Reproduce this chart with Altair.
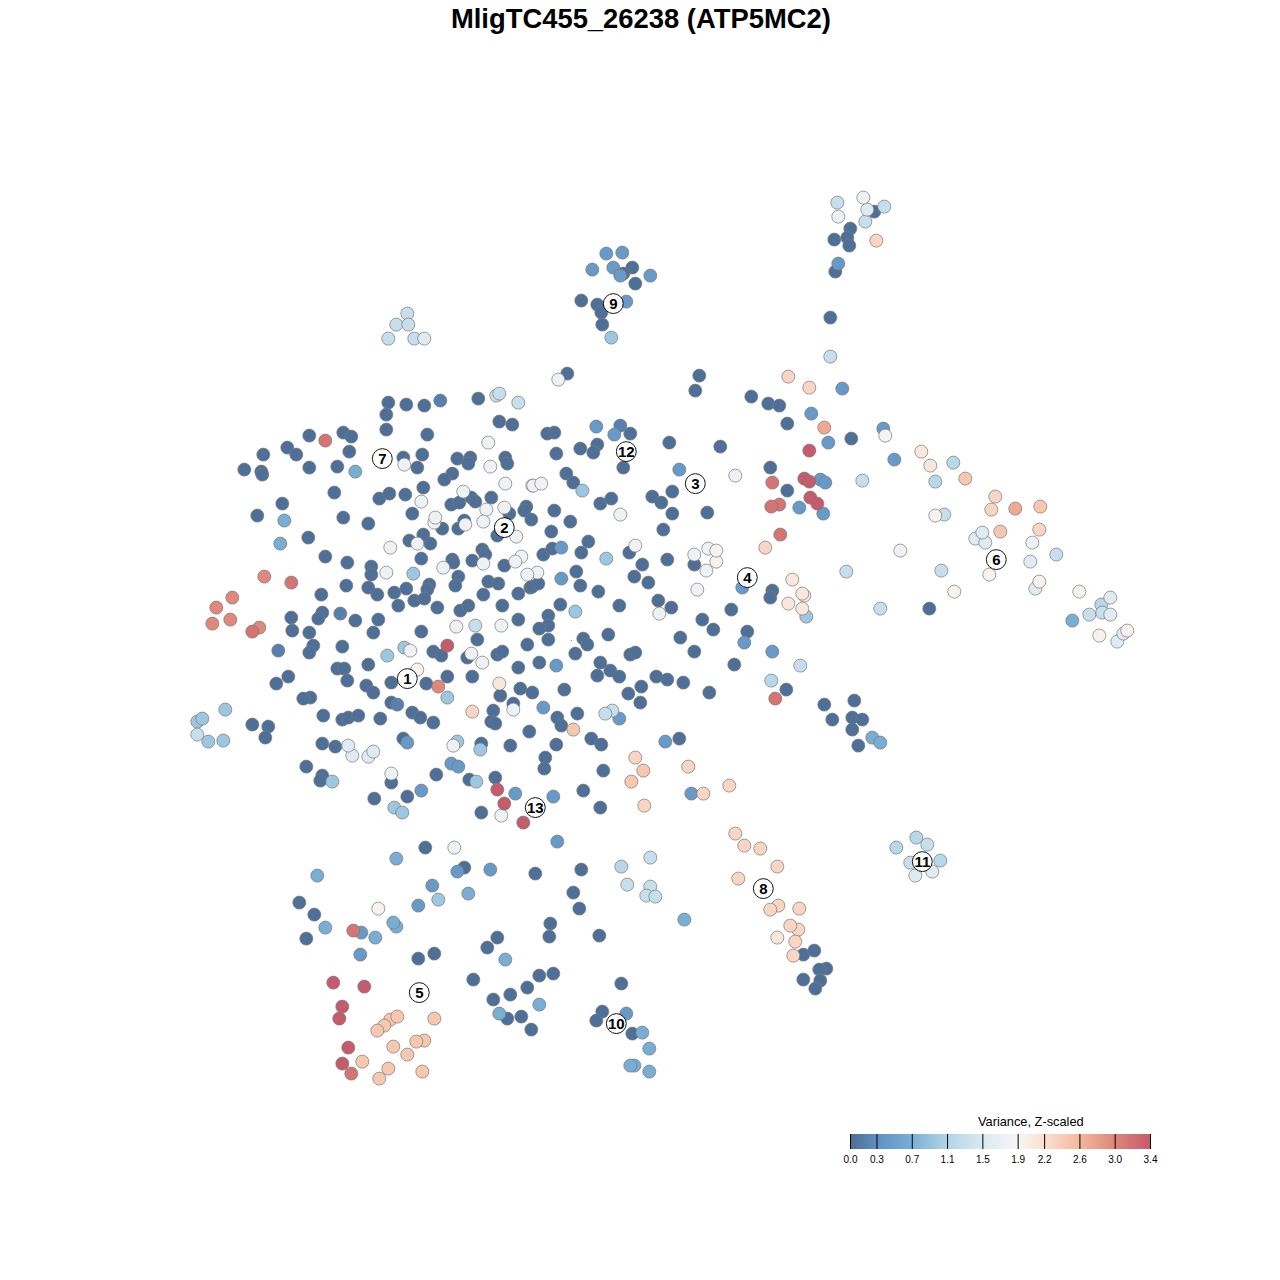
import altair as alt
import pandas as pd

TITLE = "MligTC455_26238 (ATP5MC2)"
LEGEND_TITLE = "Variance, Z-scaled"
LEGEND_TICKS = [0.0, 0.3, 0.7, 1.1, 1.5, 1.9, 2.2, 2.6, 3.0, 3.4]
LEGEND_COLORS = ["#4c6c93", "#5f90c2", "#79b0d5", "#b2d5e6", "#dbe9f1",
                 "#f7f6f5", "#fbdfcf", "#f4b89d", "#df8579", "#c45a6a"]

dark = [(388,402),(406,404),(424,405),(386,414),(386,429),(427,434),(478,398),(499,421),(512,424),(309,435),(343,432),(351,436),(287,447),(296,454),(263,454),(349,451),(244,469),(261,471),(262,474),(309,467),(337,466),(403,457),(422,454),(417,467),(457,458),(470,457),(468,463),(505,457),(507,463),(452,473),(444,479),(334,492),(282,503),(257,515),(343,517),(368,523),(308,537),(325,556),(347,562),(379,498),(389,493),(405,494),(423,487),(412,513),(471,497),(451,504),(459,502),(475,501),(491,497),(509,513),(526,506),(524,510),(531,519),(464,520),(442,528),(458,528),(497,535),(423,534),(409,540),(430,543),(421,558),(452,559),(453,562),(472,560),(482,549),(485,554),(504,565),(371,566),(371,574),(458,576),(455,585),(488,581),(498,583),(530,587),(518,593),(346,585),(368,587),(377,594),(406,588),(394,592),(429,584),(427,589),(414,600),(424,598),(398,605),(437,607),(483,594),(460,610),(468,605),(502,605),(518,619),(321,594),(291,617),(322,612),(318,618),(355,620),(378,619),(373,632),(292,630),(309,632),(313,645),(309,652),(342,646),(421,631),(477,639),(527,644),(433,651),(441,655),(497,654),(502,651),(467,657),(518,667),(368,664),(337,668),(344,668),(347,680),(288,676),(276,683),(447,676),(472,676),(391,682),(426,683),(366,685),(373,692),(391,702),(412,712),(420,717),(433,722),(310,697),(303,698),(323,715),(342,719),(348,717),(358,715),(380,718),(252,724),(268,726),(265,737),(322,743),(335,746),(403,738),(306,766),(322,775),(320,780),(391,782),(374,798),(407,796),(436,774),(481,743),(469,779),(495,777),(481,812),(425,847)]
dark2 = [(547,433),(554,432),(580,448),(597,444),(593,452),(556,453),(630,433),(669,442),(720,446),(623,467),(566,473),(573,482),(554,510),(570,521),(600,503),(611,498),(652,496),(661,502),(672,491),(672,513),(707,512),(663,529),(551,531),(543,554),(552,548),(588,541),(581,552),(629,552),(642,564),(667,559),(694,564),(532,586),(538,583),(576,571),(580,585),(598,591),(634,576),(648,582),(560,604),(548,615),(548,625),(539,628),(619,605),(658,600),(671,607),(548,639),(583,638),(587,644),(608,634),(680,637),(702,619),(713,629),(731,609),(747,631),(694,651),(734,664),(539,662),(575,653),(630,654),(635,652),(600,662),(610,670),(597,675),(619,676),(656,676),(667,679),(683,682),(709,692),(628,693),(641,686),(640,702),(564,689),(520,688),(532,692),(500,695),(513,703),(493,710),(491,721),(495,723),(557,717),(561,725),(577,713),(529,731),(510,745),(556,744),(591,738),(601,744),(545,757),(544,768),(679,738),(603,770),(600,807),(583,790)]
dark3 = [(632,267),(623,273),(635,283),(581,300),(597,304),(601,312),(602,324),(874,211),(850,228),(834,239),(847,237),(849,245),(835,271),(830,317),(567,373),(699,375),(695,390),(751,396),(768,403),(779,405),(787,423),(851,438),(770,467),(787,490),(772,590),(770,597),(786,689),(824,704),(854,700),(832,719),(852,717),(862,719),(852,729),(858,745),(929,608),(464,867),(535,873),(581,869),(573,892),(579,908),(299,902),(314,914),(306,938),(418,958),(434,953),(497,937),(487,947),(550,923),(549,936),(599,935),(473,979),(539,975),(553,973),(527,987),(510,994),(493,999),(507,1018),(521,1016),(531,1029),(602,1011),(596,1020),(632,1033),(621,983),(803,954),(814,950),(826,968),(819,969),(820,980),(803,979),(815,988)]
dmid = [(440,400),(340,613),(278,650),(620,425),(397,704)]
mid = [(596,426),(614,434),(679,469),(561,547),(561,578),(556,665),(543,707),(619,718),(407,742),(421,790),(451,763),(458,766),(515,793),(553,796),(557,841),(691,793),(665,741),(606,253),(622,252),(592,269),(613,267),(620,275),(650,275),(626,301),(838,263),(842,388),(811,413),(828,442),(820,479),(825,482),(799,507),(823,513),(894,459),(883,428),(742,587),(744,642),(772,651),(457,871),(490,869),(432,885),(361,932),(360,954),(626,1013),(418,905)]
midl = [(284,520),(280,543),(355,471),(396,858),(317,875),(468,893),(325,927),(396,926),(393,922),(375,937),(505,959),(539,1004),(499,1013),(684,919),(642,1032),(649,1048),(634,1065),(630,1065),(649,1071),(872,737),(880,742),(1072,620)]
blue_l = [(413,573),(404,647),(387,655),(447,697),(582,490),(606,558),(575,611),(611,337),(480,749),(457,741),(476,781),(332,781),(394,807),(402,812),(438,899),(225,709),(197,721),(202,718),(208,741),(223,740),(806,616)]
light = [(953,462),(935,481),(771,680),(896,847),(916,837),(940,860),(1101,604),(621,866)]
pale = [(475,625),(496,395),(499,393),(518,402),(407,313),(396,324),(408,324),(388,338),(414,338),(197,734),(612,710),(605,713),(837,202),(884,206),(865,221),(830,356),(862,480),(944,514),(1056,554),(941,570),(880,608),(846,571),(800,665),(650,857),(627,884),(650,886),(646,895),(655,896),(927,844),(910,862),(1089,614),(1102,612)]
paler = [(424,338),(352,755),(368,756),(373,751),(348,745),(867,209),(975,538),(985,542),(982,532),(915,875),(932,871),(1110,597),(1110,614),(1117,641),(1123,633),(1035,588),(1030,561)]
white = [(404,464),(488,442),(490,466),(505,483),(532,485),(421,501),(463,491),(486,509),(504,507),(434,522),(435,517),(465,524),(483,521),(516,536),(417,543),(390,547),(483,563),(521,556),(515,561),(443,567),(386,572),(537,572),(527,574),(456,626),(501,625),(410,650),(471,653),(482,662),(513,709),(453,745),(391,773),(454,847),(501,815),(558,379),(533,485),(541,483),(620,514),(635,545),(659,613),(735,475),(708,548),(694,554),(706,570),(697,589),(863,197),(838,216),(900,550),(1032,542)]
wpink = [(417,669),(885,435),(378,908),(935,515),(989,574),(954,591),(1039,581),(1079,591),(1099,635),(1127,630),(716,561),(716,550)]
pink = [(499,683),(921,451),(930,465),(792,579),(804,595),(802,593),(788,603),(802,608),(777,937)]
peach = [(472,711),(788,376),(809,387),(876,240),(995,496),(991,509),(1039,529),(635,757),(688,766),(729,785),(703,793),(644,805),(735,833),(744,845),(760,848),(777,866),(738,878),(778,905),(770,909),(799,908),(798,929),(790,925),(795,941),(793,955),(765,547)]
peach2 = [(573,729),(643,770),(631,781),(390,1019),(397,1016),(384,1025),(377,1030),(434,1018),(362,1061),(393,1046),(407,1054),(424,1040),(416,1041),(388,1068),(379,1078),(422,1071),(965,478),(1040,506),(1000,531)]
salm = [(1015,508),(824,427)]
salmon = [(264,576),(232,597),(216,607),(212,623),(230,619),(259,627),(438,686)]
redsal = [(325,440),(291,582),(252,631),(772,482),(779,504),(771,506),(780,534),(775,698),(353,930),(351,1073)]
red = [(447,645),(497,789),(504,803),(523,822),(809,450),(804,478),(809,481),(810,497),(817,503),(333,982),(364,986),(342,1006),(339,1018),(348,1047),(342,1063)]

groups = [(dark, 0.03), (dark2, 0.03), (dark3, 0.03), (dmid, 0.17), (mid, 0.42), (midl, 0.68),
          (blue_l, 0.95), (light, 1.15), (pale, 1.3), (paler, 1.55), (white, 1.78),
          (wpink, 1.95), (pink, 2.1), (peach, 2.3), (peach2, 2.45), (salm, 2.72),
          (salmon, 2.98), (redsal, 3.15), (red, 3.38)]

cluster_ids = ["1","2","3","4","5","6","7","8","9","10","11","12","13"]
cluster_x = [407,504,695,747,419,996,382,763,613,616,922,626,535]
cluster_y = [678,527,483,577,992,559,458,888,303,1023,861,451,807]

rows = []
for pts, val in groups:
    for px, py in pts:
        rows.append({"x": px, "y": py, "v": val})
df = pd.DataFrame(rows)
labels = pd.DataFrame({"x": cluster_x, "y": cluster_y, "t": cluster_ids})

X = alt.X("x:Q", scale=alt.Scale(domain=[7.7, 1271.7]), axis=None)
Y = alt.Y("y:Q", scale=alt.Scale(domain=[1271.4, 7.4]), axis=None)
FONT = "Liberation Sans"

color_scale = alt.Scale(domain=LEGEND_TICKS, range=LEGEND_COLORS, interpolate="rgb")

pts = alt.Chart(df).mark_circle(size=170, opacity=1, stroke="#777777", strokeWidth=1, strokeOpacity=0.7).encode(
    x=X, y=Y, color=alt.Color("v:Q", scale=color_scale, legend=None))

speck = alt.Chart(pd.DataFrame({"x": [571], "y": [640]})).mark_circle(size=1, opacity=1, color="#2b4f7a").encode(x=X, y=Y)

discs = alt.Chart(labels).mark_circle(size=395, opacity=0.92, color="#ffffff", stroke="#000000", strokeWidth=1, strokeOpacity=1).encode(x=X, y=Y)
texts = alt.Chart(labels).mark_text(font=FONT, fontWeight="bold", fontSize=15, color="#000000", baseline="middle", align="center").encode(x=X, y=Y, text="t:N")

title = alt.Chart(pd.DataFrame({"x": [640.6], "y": [19], "t": [TITLE]})).mark_text(
    font=FONT, fontWeight="bold", fontSize=27.4, color="#000000", baseline="middle", align="center").encode(x=X, y=Y, text="t:N")
ltitle = alt.Chart(pd.DataFrame({"x": [1030.5], "y": [1121.8], "t": [LEGEND_TITLE]})).mark_text(
    font=FONT, fontSize=12.8, color="#000000", baseline="middle", align="center").encode(x=X, y=Y, text="t:N")

# legend: gradient bar, tick lines and tick labels on a scale of their own
LX = alt.X("v:Q", scale=alt.Scale(domain=[0, 3.4], range=[842.5, 1142.5]), axis=None)
stops = [alt.GradientStop(offset=v / 3.4, color=c) for v, c in zip(LEGEND_TICKS, LEGEND_COLORS)]
bar = alt.Chart(pd.DataFrame({"v": [0.0]})).mark_rect(
    fill=alt.Gradient(gradient="linear", x1=0, x2=1, y1=0, y2=0, stops=stops)
).encode(x=alt.value(842.5), x2=alt.value(1142.5), y=alt.value(1126), y2=alt.value(1141))

tick_df = pd.DataFrame({"v": LEGEND_TICKS, "t": [f"{v:.1f}" for v in LEGEND_TICKS]})
ticks = alt.Chart(tick_df).mark_rule(color="#000000", strokeWidth=1).encode(
    x=LX, y=alt.value(1126), y2=alt.value(1141))
tick_text = alt.Chart(tick_df).mark_text(font=FONT, fontSize=10, color="#000000", baseline="middle", align="center").encode(
    x=LX, y=alt.value(1152), text="t:N")

chart = alt.layer(pts, speck, discs, texts, title, ltitle, bar, ticks, tick_text).resolve_scale(x="independent").properties(
    width=1264, height=1264, padding=0, autosize="none"
).configure_view(stroke=None)

chart.save("out.html", embed_options={"renderer": "svg", "actions": False})
